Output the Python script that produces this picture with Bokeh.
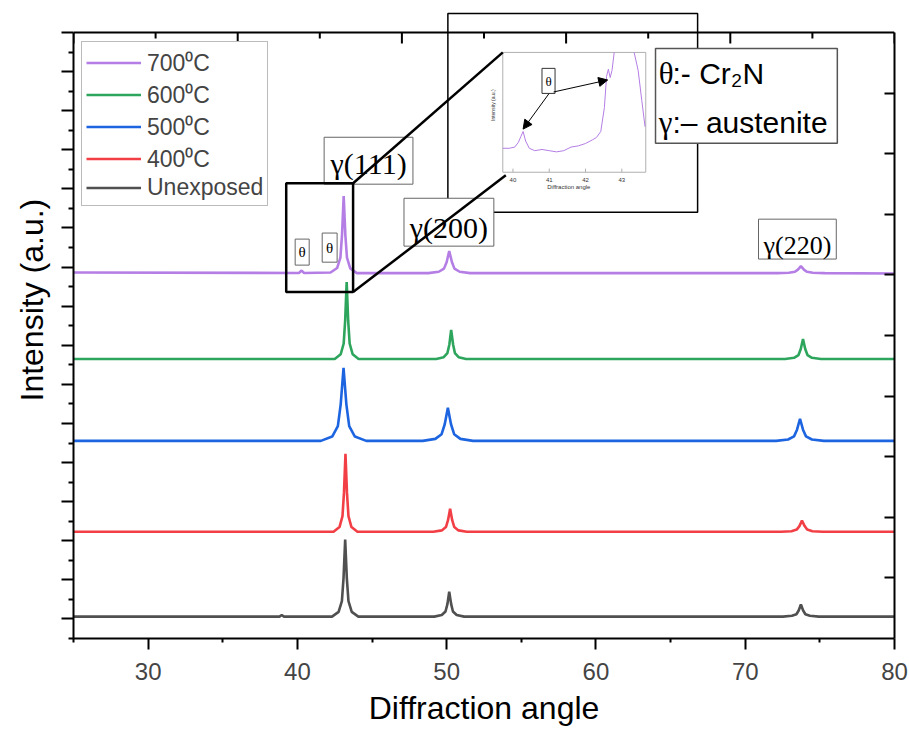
from bokeh.plotting import figure
from bokeh.models import (Range1d, LinearAxis, FixedTicker, Legend, LegendItem,
                          Span, Arrow, NormalHead, Title)
from bokeh.core.properties import value
from bokeh.embed import file_html
from bokeh.resources import INLINE
import math

# ---------------- data ----------------
x_unexp = [25, 38.8, 38.95, 39.1, 42.32, 42.76, 42.98, 43.09, 43.2, 43.31, 43.42, 43.64, 44.08,
           49.17, 49.67, 49.92, 50.05, 50.17, 50.3, 50.42, 50.67, 51.17,
           72.53, 73.13, 73.43, 73.58, 73.73, 73.88, 74.03, 74.33, 74.93, 80]
y_unexp = [1.12, 1.12, 1.2, 1.12, 1.12, 1.36, 1.91, 3.09, 5.06, 3.09, 1.91, 1.36, 1.12,
           1.12, 1.20, 1.38, 1.76, 2.40, 1.76, 1.38, 1.20, 1.12,
           1.12, 1.16, 1.24, 1.43, 1.74, 1.43, 1.24, 1.16, 1.12, 1.12]

x_400 = [25, 42.42, 42.82, 43.02, 43.12, 43.22, 43.32, 43.42, 43.62, 44.02,
         49.11, 49.67, 49.95, 50.09, 50.23, 50.37, 50.51, 50.79, 51.35,
         72.4, 73.1, 73.45, 73.63, 73.8, 73.98, 74.15, 74.5, 75.2, 80]
y_400 = [5.46, 5.46, 5.70, 6.26, 7.46, 9.45, 7.46, 6.26, 5.70, 5.46,
         5.46, 5.53, 5.70, 6.05, 6.64, 6.05, 5.70, 5.53, 5.46,
         5.46, 5.49, 5.57, 5.75, 6.03, 5.75, 5.57, 5.49, 5.46, 5.46]

x_500 = [25, 41.57, 42.33, 42.71, 42.9, 43.09, 43.28, 43.47, 43.85, 44.61,
         48.4, 49.24, 49.66, 49.87, 50.08, 50.29, 50.5, 50.92, 51.76,
         72.07, 72.87, 73.27, 73.47, 73.67, 73.87, 74.07, 74.47, 75.27, 80]
y_500 = [10.11, 10.11, 10.33, 10.86, 11.98, 13.84, 11.98, 10.86, 10.33, 10.11,
         10.11, 10.21, 10.45, 10.96, 11.80, 10.96, 10.45, 10.21, 10.11,
         10.11, 10.18, 10.34, 10.68, 11.24, 10.68, 10.34, 10.18, 10.11, 10.11]

x_600 = [25, 42.5, 42.9, 43.1, 43.2, 43.3, 43.4, 43.5, 43.7, 44.1,
         49.3, 49.8, 50.05, 50.18, 50.3, 50.43, 50.55, 50.8, 51.3,
         72.67, 73.27, 73.57, 73.72, 73.87, 74.02, 74.17, 74.47, 75.07, 80]
y_600 = [14.30, 14.30, 14.54, 15.09, 16.27, 18.23, 16.27, 15.09, 14.54, 14.30,
         14.30, 14.39, 14.60, 15.04, 15.78, 15.04, 14.60, 14.39, 14.30,
         14.30, 14.36, 14.50, 14.81, 15.32, 14.81, 14.50, 14.36, 14.30, 14.30]

x_700 = [25, 40.1, 40.28, 40.45, 42.22, 42.66, 42.88, 42.99, 43.1, 43.21, 43.32, 43.54, 43.98,
         48.77, 49.47, 49.82, 50.0, 50.17, 50.35, 50.52, 50.87, 51.57,
         72.13, 72.93, 73.33, 73.53, 73.73, 73.93, 74.13, 74.53, 75.33, 80]
y_700 = [18.72, 18.70, 18.82, 18.70, 18.72, 18.95, 19.48, 20.66, 22.63, 20.66, 19.48, 18.93, 18.69,
         18.69, 18.76, 18.92, 19.26, 19.82, 19.26, 18.92, 18.76, 18.69,
         18.69, 18.71, 18.76, 18.87, 19.05, 18.87, 18.76, 18.71, 18.69, 18.67]

# inset (zoom of the 700 C curve, 39.7-43.7 deg, normalised intensity)
inset_x_a = [39.72, 39.9, 40.05, 40.15, 40.22, 40.28, 40.35, 40.45, 40.6, 40.8, 41.0, 41.2,
             41.4, 41.6, 41.8, 42.0, 42.19, 42.3, 42.42, 42.52, 42.58, 42.63, 42.68, 42.73, 42.79]
inset_y_a = [0.20, 0.20, 0.21, 0.25, 0.30, 0.34, 0.26, 0.20, 0.18, 0.19, 0.18, 0.17,
             0.18, 0.21, 0.22, 0.24, 0.27, 0.29, 0.34, 0.54, 0.80, 0.86, 0.79, 0.85, 1.0]
inset_x_b = [43.34, 43.45, 43.55, 43.64]
inset_y_b = [1.0, 0.85, 0.6, 0.38]
inset_ticks = [40, 41, 42, 43]
inset_tick_labels = ["40", "41", "42", "43"]

series_names = ["700\u2070C", "600\u2070C", "500\u2070C", "400\u2070C", "Unexposed"]
series_colors = ["#b47ee5", "#2ea55c", "#1c64e0", "#f23f45", "#505050"]

x_ticks = [30, 40, 50, 60, 70, 80]
x_minor = [25, 35, 45, 55, 65, 75]
y_major = [1, 3, 5, 7, 9, 11, 13, 15, 17, 19, 21, 23, 25, 27, 29, 31]
y_minor = [0, 2, 4, 6, 8, 10, 12, 14, 16, 18, 20, 22, 24, 26, 28, 30]
right_ticks = [3.1, 6.2, 9.3, 12.4, 15.5, 18.6, 21.7, 24.8, 27.9]
top_major = [25, 36, 47, 58, 69, 80]
top_minor = [30.5, 41.5, 52.5, 63.5, 74.5]

SANS = "Liberation Sans"
SERIF = "Liberation Serif"

# ---------------- figure ----------------
p = figure(width=909, height=731, output_backend="svg", toolbar_location=None,
           x_range=Range1d(25, 80), y_range=Range1d(0, 32.124),
           min_border_left=72, min_border_right=15, min_border_top=10, min_border_bottom=92)
p.outline_line_color = None
p.xgrid.visible = False
p.ygrid.visible = False
p.background_fill_color = "white"
p.border_fill_color = "white"

p.extra_x_ranges = {"ix": Range1d(27.889, 50.515)}
p.extra_y_ranges = {"iy": Range1d(-3.8917, 1.35)}

# bottom axis
xa = p.xaxis[0]
xa.ticker = FixedTicker(ticks=x_ticks, minor_ticks=x_minor)
xa.major_label_text_font = SANS
xa.major_label_text_font_size = "24px"
xa.major_label_standoff = 13
xa.axis_line_width = 2
xa.major_tick_line_width = 2
xa.minor_tick_line_width = 2
xa.major_tick_out = 11
xa.major_tick_in = 0
xa.minor_tick_out = 4
xa.minor_tick_in = 0
p.add_layout(Title(text="Diffraction angle", align="center", vertical_align="bottom", standoff=11,
                   text_font=SANS, text_font_size="32px", text_font_style="normal",
                   text_color="black"), "below")

# left axis
ya = p.yaxis[0]
ya.ticker = FixedTicker(ticks=y_major, minor_ticks=y_minor)
ya.bounds = (0, 31)
ya.major_label_overrides = {t: "" for t in y_major}
ya.major_label_text_font_size = "1px"
ya.major_label_standoff = 0
ya.axis_line_width = 2
ya.major_tick_line_width = 2
ya.minor_tick_line_width = 2
ya.major_tick_out = 12
ya.major_tick_in = 0
ya.minor_tick_out = 5
ya.minor_tick_in = 0

p.add_layout(Title(text="Intensity (a.u.)", align="left", offset=237, standoff=23,
                   vertical_align="bottom",
                   text_font=SANS, text_font_size="32px", text_font_style="normal",
                   text_color="black"), "left")

# right axis (ticks inward)
ra = LinearAxis(ticker=FixedTicker(ticks=right_ticks, minor_ticks=[]), bounds=(0, 31))
ra.major_label_overrides = {t: "" for t in right_ticks}
ra.major_label_text_font_size = "1px"
ra.major_tick_in = 10
ra.major_tick_out = 0
ra.minor_tick_in = 0
ra.minor_tick_out = 0
ra.axis_line_width = 2
ra.major_tick_line_width = 2
p.add_layout(ra, "right")

# top frame line with inward ticks
p.add_layout(Span(location=31, dimension="width", line_color="black", line_width=2))
p.segment(x0=top_major, y0=[31] * len(top_major), x1=top_major, y1=[30.44] * len(top_major),
          line_color="black", line_width=2)
p.segment(x0=top_minor, y0=[31] * len(top_minor), x1=top_minor, y1=[30.69] * len(top_minor),
          line_color="black", line_width=2)

# ---------------- curves ----------------
all_x = [x_700, x_600, x_500, x_400, x_unexp]
all_y = [y_700, y_600, y_500, y_400, y_unexp]
renderers = []
for xs, ys, c in zip(all_x, all_y, series_colors):
    renderers.append(p.line(xs, ys, line_color=c, line_width=2.6))

# ---------------- inset ----------------
p.quad(left=[50.08], right=[66.81], bottom=[21.81], top=[31.97], fill_color=None,
       line_color="black", line_width=1.5)
p.quad(left=[39.72], right=[43.66], bottom=[0], top=[1], fill_color="white",
       line_color="#b0b0b0", line_width=1, x_range_name="ix", y_range_name="iy")
p.segment(x0=inset_ticks, y0=[0] * 4, x1=inset_ticks, y1=[0.03] * 4, line_color="#b0b0b0",
          line_width=1, x_range_name="ix", y_range_name="iy")
p.line(inset_x_a, inset_y_a, line_color="#b47ee5", line_width=1, x_range_name="ix", y_range_name="iy")
p.line(inset_x_b, inset_y_b, line_color="#b47ee5", line_width=1, x_range_name="ix", y_range_name="iy")
p.text(x=inset_ticks, y=[-0.05] * 4, text=inset_tick_labels, text_font=value(SANS),
       text_font_size=value("6px"), text_align="center", text_baseline="top", text_color="#333",
       x_range_name="ix", y_range_name="iy")
p.text(x=[41.54], y=[-0.12], text=["Diffraction angle"], text_font=value(SANS),
       text_font_size=value("6px"), text_align="center", text_baseline="middle", text_color="#333",
       x_range_name="ix", y_range_name="iy")
p.text(x=[39.45], y=[0.56], text=["Intensity (a.u.)"], text_font=value(SANS),
       text_font_size=value("5px"), text_align="center", text_baseline="middle", text_color="#333",
       angle=math.pi / 2, x_range_name="ix", y_range_name="iy")
p.quad(left=[40.80], right=[41.16], bottom=[0.658], top=[0.867], fill_color="white",
       line_color="#333", line_width=1, x_range_name="ix", y_range_name="iy")
p.text(x=[40.98], y=[0.76], text=["\u03b8"], text_font=value(SERIF), text_font_size=value("13px"),
       text_align="center", text_baseline="middle", x_range_name="ix", y_range_name="iy")
p.add_layout(Arrow(end=NormalHead(size=9, fill_color="black", line_color="black"),
                   x_start=40.99, y_start=0.655, x_end=40.28, y_end=0.36, line_width=1,
                   x_range_name="ix", y_range_name="iy"))
p.add_layout(Arrow(end=NormalHead(size=9, fill_color="black", line_color="black"),
                   x_start=41.12, y_start=0.67, x_end=42.61, y_end=0.77, line_width=1,
                   x_range_name="ix", y_range_name="iy"))

# ---------------- peak label boxes ----------------
p.quad(left=[41.79, 47.14, 70.89, 39.85, 41.66], right=[47.74, 53.16, 76.10, 40.79, 42.66],
       bottom=[23.24, 20.07, 19.41, 19.10, 19.25], top=[25.64, 22.52, 21.45, 20.43, 20.74],
       fill_color="white", line_color="#666666", line_width=1)
p.text(x=[44.77, 50.15], y=[24.31, 21.04], text=["\u03b3(111)", "\u03b3(200)"],
       text_font=value(SERIF), text_font_size=value("30px"), text_align="center",
       text_baseline="alphabetic")
p.text(x=[73.5], y=[20.08], text=["\u03b3(220)"], text_font=value(SERIF),
       text_font_size=value("26px"), text_align="center", text_baseline="alphabetic")
p.text(x=[40.32, 42.16], y=[19.77, 19.99], text=["\u03b8", "\u03b8"], text_font=value(SERIF),
       text_font_size=value("15px"), text_align="center", text_baseline="middle")

# zoom rectangle and connecting lines
p.quad(left=[39.25], right=[43.73], bottom=[17.72], top=[23.29], fill_color=None,
       line_color="black", line_width=2.5)
p.segment(x0=[43.73, 43.73], y0=[23.29, 17.72], x1=[53.76, 53.96], y1=[29.98, 23.70],
          line_color="black", line_width=2.5)

# key box
p.quad(left=[63.99], right=[76.17], bottom=[25.33], top=[30.18], fill_color="white",
       line_color="#555555", line_width=1.5)
p.text(x=[64.2, 64.2], y=[28.92, 26.40], text=["\u03b8", "\u03b3"], text_font=value(SERIF),
       text_font_size=value("31px"), text_align="left", text_baseline="alphabetic")
p.text(x=[65.13, 65.13], y=[28.92, 26.40], text=[":- Cr\u2082N", ":\u2013 austenite"],
       text_font=value(SANS), text_font_size=value("30px"), text_align="left",
       text_baseline="alphabetic")

# ---------------- legend ----------------
legend = Legend(items=[LegendItem(label=n, renderers=[r]) for n, r in zip(series_names, renderers)],
                location=(8, 432))
legend.label_text_font = SANS
legend.label_text_font_size = "23px"
legend.label_height = 27
legend.glyph_height = 27
legend.glyph_width = 55
legend.label_standoff = 6
legend.spacing = 0
legend.padding = 4
legend.margin = 0
legend.border_line_color = "#777777"
legend.border_line_width = 1.5
legend.background_fill_alpha = 1
p.add_layout(legend)

open("out.html", "w").write(file_html(p, INLINE))
